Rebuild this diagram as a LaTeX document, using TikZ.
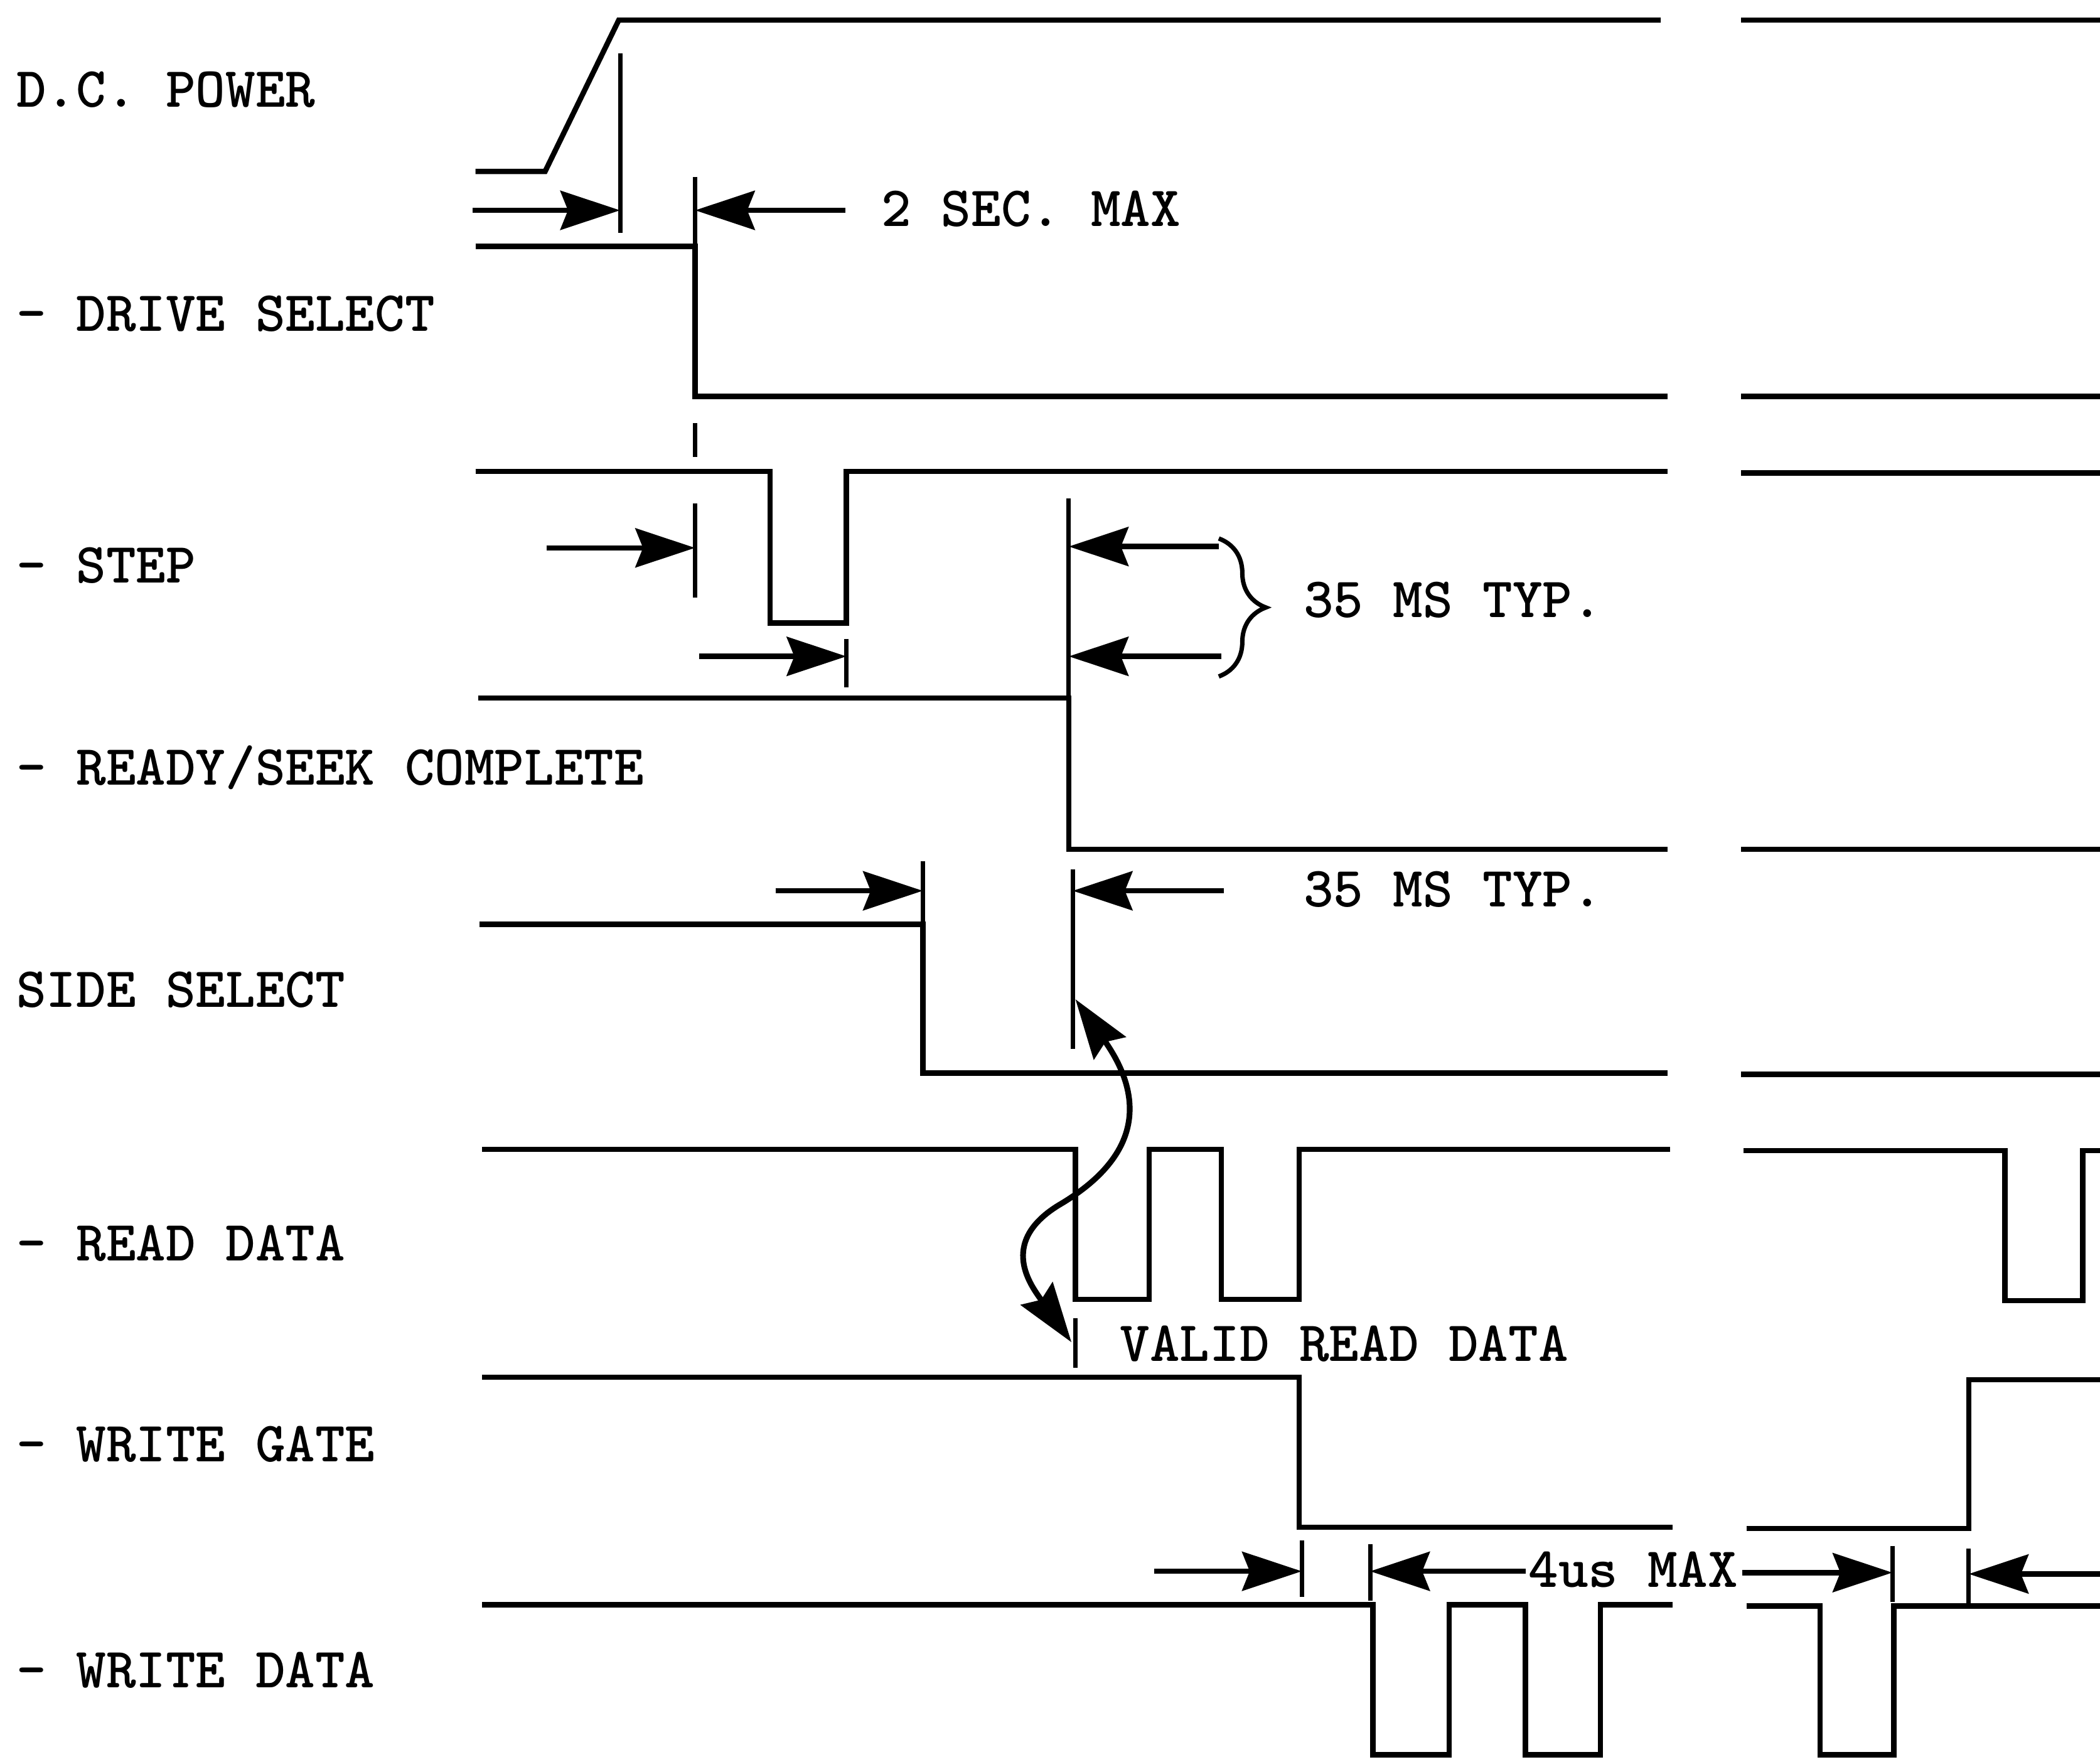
\documentclass[tikz,border=0pt]{standalone}
\usepackage{fontspec}
\usetikzlibrary{arrows.meta,decorations.pathreplacing}
\tikzset{
  fig/.style={font=\fontsize{25.8}{30}\selectfont\ttfamily\bfseries},
  sig/.style={line width=2.4pt,line join=miter},
  tck/.style={line width=2pt},
  ln/.style={-{Stealth[length=9.5mm,width=6.2mm,inset=1.2mm]},line width=2.4pt},
  lnb/.style={{Stealth[length=9.5mm,width=6.2mm,inset=1.2mm]}-{Stealth[length=9.5mm,width=6.2mm,inset=1.2mm]},line width=2.6pt},
  lbl/.style={inner sep=0pt,anchor=base west},
}

\begin{document}
\begin{tikzpicture}[fig,x=0.2134mm,y=-0.2134mm,
  brc/.style={decorate,decoration={brace,amplitude=7.5mm,aspect=0.5},line width=2pt}]
\useasboundingbox (0,0) rectangle (1568,1315);

% signal names
\node[lbl] (pwr)  at (12,80)   {D.C. POWER};
\node[lbl] (dsel) at (12,247)  {- DRIVE SELECT};
\node[lbl] (step) at (12,435)  {- STEP};
\node[lbl] (rdy)  at (12,586)  {- READY/SEEK COMPLETE};
\node[lbl] (ssel) at (12,752)  {SIDE SELECT};
\node[lbl] (rdat) at (12,941)  {- READ DATA};
\node[lbl] (wgat) at (12,1091) {- WRITE GATE};
\node[lbl] (wdat) at (12,1260) {- WRITE DATA};

% waveforms
\draw[sig] (355,128) -- (407,128) -- (462,15) -- (1240,15);
\draw[sig] (1300,15) -- (1568,15);
\draw[sig] (355,184) -- (519,184) -- (519,296) -- (1245,296);
\draw[sig] (1300,296) -- (1568,296);
\draw[sig] (355,352) -- (575,352) -- (575,465) -- (632,465) -- (632,352) -- (1245,352);
\draw[sig] (1300,353) -- (1568,353);
\draw[sig] (357,521) -- (798,521) -- (798,634) -- (1245,634);
\draw[sig] (1300,634) -- (1568,634);
\draw[sig] (358,690) -- (689,690) -- (689,801) -- (1245,801);
\draw[sig] (1300,802) -- (1568,802);
\draw[sig] (360,858) -- (803,858) -- (803,970) -- (858,970) -- (858,858) -- (912,858)
  -- (912,970) -- (970,970) -- (970,858) -- (1247,858);
\draw[sig] (1302,859) -- (1497,859) -- (1497,971) -- (1555,971) -- (1555,859) -- (1568,859);
\draw[sig] (360,1028) -- (970,1028) -- (970,1140) -- (1249,1140);
\draw[sig] (1304,1141) -- (1470,1141) -- (1470,1030) -- (1568,1030);
\draw[sig] (360,1198) -- (1025,1198) -- (1025,1310) -- (1082,1310) -- (1082,1198) -- (1139,1198)
  -- (1139,1310) -- (1195,1310) -- (1195,1198) -- (1249,1198);
\draw[sig] (1304,1199) -- (1359,1199) -- (1359,1310) -- (1414,1310) -- (1414,1199) -- (1568,1199);

% reference ticks
\coordinate (t1) at (463,157);  \draw[tck] (463,40) -- (463,174);
\coordinate (t2) at (519,157);  \draw[tck] (519,132) -- (519,184);
\draw[tck] (519,316) -- (519,341);
\coordinate (t3) at (519,409);  \draw[tck] (519,376) -- (519,446);
\coordinate (t4) at (632,490);  \draw[tck] (632,477) -- (632,513);
\coordinate (t5) at (798,408);  \coordinate (t6) at (798,490);
\draw[tck] (798,372) -- (798,521);
\coordinate (t7) at (689,665);  \draw[tck] (689,643) -- (689,690);
\coordinate (t8) at (801,665);  \draw[tck] (801,649) -- (801,783);
\draw[tck] (803,984) -- (803,1021);
\coordinate (t9) at (972,1173);  \draw[tck] (972,1150) -- (972,1192);
\coordinate (t10) at (1023,1173); \draw[tck] (1023,1153) -- (1023,1195);
\coordinate (t11) at (1413,1174); \draw[tck] (1413,1154) -- (1413,1196);
\coordinate (t12) at (1470,1175); \draw[tck] (1470,1156) -- (1470,1197);

% dimension arrows
\coordinate (a1) at (353,157);  \draw[ln] (a1) -- (t1);
\coordinate (a2) at (631,157);  \draw[ln] (a2) -- (t2);
\coordinate (a3) at (408,409);  \draw[ln] (a3) -- (t3);
\coordinate (a4) at (522,490);  \draw[ln] (a4) -- (t4);
\coordinate (a5) at (910,408);  \draw[ln] (a5) -- (t5);
\coordinate (a6) at (912,490);  \draw[ln] (a6) -- (t6);
\coordinate (a7) at (579,665);  \draw[ln] (a7) -- (t7);
\coordinate (a8) at (914,665);  \draw[ln] (a8) -- (t8);
\coordinate (a9) at (862,1173); \draw[ln] (a9) -- (t9);
\coordinate (a10) at (1139,1173); \draw[ln] (a10) -- (t10);
\coordinate (a11) at (1301,1174); \draw[ln] (a11) -- (t11);
\coordinate (a12) at (1568,1175); \draw[ln] (a12) -- (t12);

\draw[brc] (910,402) -- (910,505);

% timing notes
\node[lbl] (sec2) at (658,169)   {2 SEC. MAX};
\node[lbl] (ms1)  at (973,461)   {35 MS TYP.};
\node[lbl] (ms2)  at (973,677)   {35 MS TYP.};
\node[lbl] (vrd)  at (836,1016)  {VALID READ DATA};
\node[lbl] (us4)  at (1141,1185) {4us MAX};

\coordinate (c1) at (803,746);
\coordinate (c2) at (800,1002);
\draw[lnb] (c1) .. controls (848,810) and (862,858) .. (790,900)
  .. controls (745,928) and (770,960) .. (c2);

\end{tikzpicture}
\end{document}
